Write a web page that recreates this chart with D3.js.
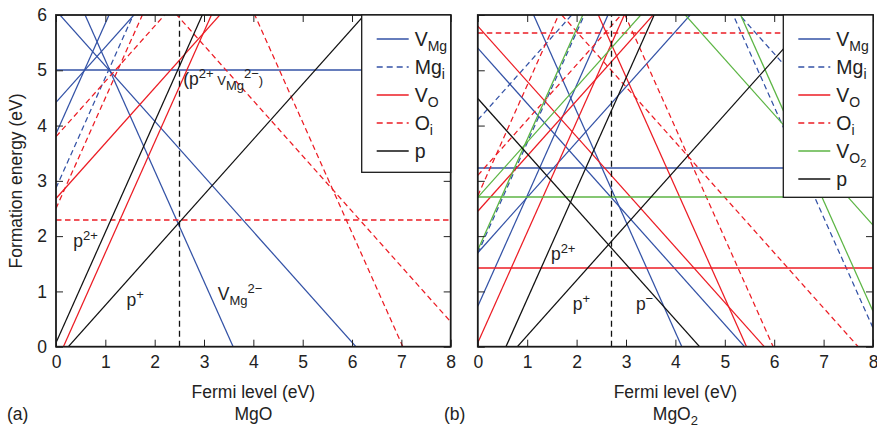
<!DOCTYPE html>
<html>
<head>
<meta charset="utf-8">
<script src="https://cdn.jsdelivr.net/npm/d3@7"></script>
<style>
  body { margin: 0; background: #fff; }
  svg { display: block; font-family: "Liberation Sans", Arial, sans-serif; }
  .axis text { font-size: 17.5px; fill: #222; }
  .axis line { stroke: #222; stroke-width: 1; }
</style>
</head>
<body>
<svg id="chart" width="877" height="427"></svg>
<script>
// each defect line is [intercept at Ef=0, slope (= charge)] in eV
const xTicks = [0, 1, 2, 3, 4, 5, 6, 7, 8];
const yTicks = [0, 1, 2, 3, 4, 5, 6];

// (a) MgO
const vMgA = [[5, 0], [4.42, 1], [3.85, 2], [6.08, -1], [7.18, -2]];
const mgIA = [[2.87, 2]];
const vOA  = [[2.68, 1], [-0.3, 2]];
const oIA  = [[2.3, 0], [3.8, 1], [2.5, 2], [8.45, -1], [14.06, -2]];
const pA   = [[0.07, 2], [-0.25, 1]];
const fermiA = 2.5;

// (b) MgO2
const vMgB  = [[3.24, 0], [0.73, 2], [1.7, 1], [5.4, -1], [8.26, -2]];
const mgIB  = [[4.1, 1], [1.69, 2], [11.3, -1], [16.34, -2]];
const vOB   = [[1.42, 0], [0.07, 2], [2.45, 1], [5.8, -1], [10.88, -2]];
const oIB   = [[5.68, 0], [2.73, 2], [3.1, 1], [7.7, -1], [11.96, -2]];
const vO2B  = [[2.7, 0], [1.75, 2], [2.7, 1], [10.2, -1], [16.64, -2]];
const pB    = [[-1.14, 2], [-0.8, 1], [4.49, -1]];
const fermiB = 2.69;

const BLUE = "#3352a6", RED = "#ec1c24", GREEN = "#5cb544", BLACK = "#111";

const svg = d3.select("#chart");

function drawPanel(opt) {
    const x = d3.scaleLinear().domain([0, 8]).range([opt.left, opt.right]);
    const y = d3.scaleLinear().domain([0, 6]).range([346.7, 15]);
    const g = svg.append("g");

    g.append("clipPath").attr("id", opt.id)
        .append("rect")
        .attr("x", x(0)).attr("y", y(6))
        .attr("width", x(8) - x(0)).attr("height", y(0) - y(6));

    const plot = g.append("g").attr("clip-path", "url(#" + opt.id + ")");

    // defect lines; flat ones put on a pixel edge so the colour spreads over two rows
    opt.series.forEach(s => {
        plot.selectAll(null)
            .data(s.lines)
            .enter().append("line")
            .attr("x1", x(0)).attr("y1", d => d[1] == 0 ? Math.round(y(d[0])) : y(d[0]))
            .attr("x2", x(8)).attr("y2", d => d[1] == 0 ? Math.round(y(d[0])) : y(d[0] + 8 * d[1]))
            .attr("stroke", s.color)
            .attr("stroke-width", d => d[1] == 0 ? 1.4 : 1.25)
            .attr("stroke-dasharray", s.dash ? "5.5,3.5" : null);
    });

    // fermi level
    plot.append("line")
        .attr("x1", Math.round(x(opt.fermi)) + 0.5).attr("x2", Math.round(x(opt.fermi)) + 0.5)
        .attr("y1", y(0)).attr("y2", y(6))
        .attr("stroke", BLACK).attr("stroke-width", 1.3)
        .attr("stroke-dasharray", "6,4");

    // axes, ticks pointing inward
    g.append("g").attr("class", "axis")
        .attr("transform", "translate(0," + y(0) + ")")
        .call(d3.axisBottom(x).tickValues(xTicks).tickSize(-7).tickPadding(9).tickFormat(d3.format("d")))
        .call(a => a.select(".domain").remove());
    g.append("g").attr("class", "axis")
        .attr("transform", "translate(0," + y(6) + ")")
        .call(d3.axisTop(x).tickValues(xTicks).tickSize(-7).tickFormat(""))
        .call(a => a.select(".domain").remove());
    g.append("g").attr("class", "axis")
        .attr("transform", "translate(" + x(0) + ",0)")
        .call(d3.axisLeft(y).tickValues(yTicks).tickSize(-7).tickPadding(9)
            .tickFormat(opt.yLabels ? d3.format("d") : ""))
        .call(a => a.select(".domain").remove());
    g.append("g").attr("class", "axis")
        .attr("transform", "translate(" + x(8) + ",0)")
        .call(d3.axisRight(y).tickValues(yTicks).tickSize(-7).tickFormat(""))
        .call(a => a.select(".domain").remove());

    g.append("rect")
        .attr("x", x(0)).attr("y", y(6))
        .attr("width", x(8) - x(0)).attr("height", y(0) - y(6))
        .attr("fill", "none").attr("stroke", "#1a1a1a").attr("stroke-width", 1.8);

    // labels inside plot
    opt.notes.forEach(n => {
        const t = g.append("text")
            .attr("x", x(n.x)).attr("y", y(n.y))
            .attr("font-size", 17.5).attr("fill", "#222");
        n.parts.forEach(p => {
            t.append("tspan")
                .attr("font-size", p.s ? 13 : 17.5)
                .attr("dy", p.s || 0)
                .text(p.t);
        });
    });

    // axis titles
    g.append("text")
        .attr("x", (x(0) + x(8)) / 2).attr("y", 398)
        .attr("text-anchor", "middle").attr("font-size", 17.5).attr("fill", "#222")
        .text("Fermi level (eV)");
    const sub = g.append("text")
        .attr("x", (x(0) + x(8)) / 2).attr("y", 420)
        .attr("text-anchor", "middle").attr("font-size", 17.5).attr("fill", "#222");
    sub.append("tspan").text(opt.material);
    if (opt.materialSub) sub.append("tspan").attr("font-size", 13).attr("dy", 5).text(opt.materialSub);
    g.append("text")
        .attr("x", opt.tagX).attr("y", 420)
        .attr("font-size", 17.5).attr("fill", "#222")
        .text(opt.tag);

    // legend
    const lg = opt.legend;
    const rowH = 28;
    g.append("rect")
        .attr("x", lg.x).attr("y", y(6))
        .attr("width", x(8) - lg.x).attr("height", lg.h)
        .attr("fill", "#fff").attr("stroke", "#1a1a1a").attr("stroke-width", 1.3);
    opt.series.forEach((s, i) => {
        const cy = Math.round(y(6) + 24 + i * rowH);
        g.append("line")
            .attr("x1", lg.x + 15).attr("x2", lg.x + 47)
            .attr("y1", cy).attr("y2", cy)
            .attr("stroke", s.color).attr("stroke-width", 1.6)
            .attr("stroke-dasharray", s.dash ? "6,4" : null);
        const t = g.append("text")
            .attr("x", lg.x + 53).attr("y", cy + 7)
            .attr("font-size", 19.5).attr("fill", "#222");
        t.append("tspan").text(s.name);
        if (s.sub) t.append("tspan").attr("font-size", 14).attr("dy", 5).text(s.sub);
        if (s.sub2) t.append("tspan").attr("font-size", 11).attr("dy", 4).text(s.sub2);
    });
}

drawPanel({
    id: "clipA", left: 56, right: 450.7, fermi: fermiA, yLabels: true,
    material: "MgO", tag: "(a)", tagX: 7,
    legend: { x: 361.7, h: 157.3 },
    series: [
        { name: "V", sub: "Mg", color: BLUE, lines: vMgA },
        { name: "Mg", sub: "i", color: BLUE, dash: true, lines: mgIA },
        { name: "V", sub: "O", color: RED, lines: vOA },
        { name: "O", sub: "i", color: RED, dash: true, lines: oIA },
        { name: "p", color: BLACK, lines: pA }
    ],
    notes: [
        { x: 2.58, y: 4.74, parts: [{ t: "(p" }, { t: "2+", s: -7 }, { t: " V", s: 7 }, { t: "Mg", s: 5 }, { t: "2\u2212", s: -12 }, { t: ")", s: 7 }] },
        { x: 0.35, y: 1.8, parts: [{ t: "p" }, { t: "2+", s: -7 }] },
        { x: 1.43, y: 0.74, parts: [{ t: "p" }, { t: "+", s: -7 }] },
        { x: 3.28, y: 0.85, parts: [{ t: "V" }, { t: "Mg", s: 5 }, { t: "2\u2212", s: -12 }] }
    ]
});

drawPanel({
    id: "clipB", left: 477.8, right: 873, fermi: fermiB, yLabels: false,
    material: "MgO", materialSub: "2", tag: "(b)", tagX: 444,
    legend: { x: 783.3, h: 182.3 },
    series: [
        { name: "V", sub: "Mg", color: BLUE, lines: vMgB },
        { name: "Mg", sub: "i", color: BLUE, dash: true, lines: mgIB },
        { name: "V", sub: "O", color: RED, lines: vOB },
        { name: "O", sub: "i", color: RED, dash: true, lines: oIB },
        { name: "V", sub: "O", sub2: "2", color: GREEN, lines: vO2B },
        { name: "p", color: BLACK, lines: pB }
    ],
    notes: [
        { x: 1.48, y: 1.57, parts: [{ t: "p" }, { t: "2+", s: -7 }] },
        { x: 1.92, y: 0.66, parts: [{ t: "p" }, { t: "+", s: -7 }] },
        { x: 3.2, y: 0.66, parts: [{ t: "p" }, { t: "\u2212", s: -7 }] }
    ]
});

// shared y title
svg.append("text")
    .attr("transform", "translate(22,181) rotate(-90)")
    .attr("text-anchor", "middle").attr("font-size", 17.5).attr("fill", "#222")
    .text("Formation energy (eV)");
</script>
</body>
</html>
